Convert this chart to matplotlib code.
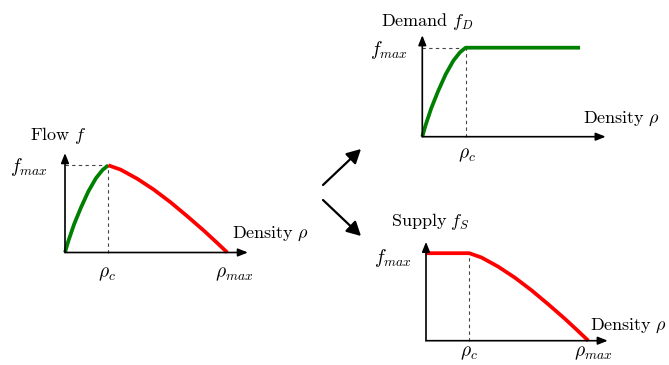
import matplotlib
matplotlib.use("Agg")
import matplotlib.pyplot as plt
from matplotlib.patches import FancyArrowPatch

plt.rcParams['mathtext.fontset'] = 'cm'
plt.rcParams['font.size'] = 13

# Flow curve (rho normalised by rho_max, f by f_max)
rho_c = 0.267
rho_green = [0.0, 0.020, 0.055, 0.097, 0.144, 0.191, 0.232, 0.267]
f_green = [0.0, 0.128, 0.319, 0.510, 0.701, 0.853, 0.948, 1.0]
rho_red = [0.267, 0.343, 0.445, 0.548, 0.651, 0.754, 0.856, 0.938, 1.0]
f_red = [1.0, 0.950, 0.846, 0.720, 0.575, 0.415, 0.250, 0.109, 0.0]
rho_demand_end = 0.972

GREEN = '#008000'
RED = '#ff0000'
W, H = 669, 365
SX = 162.3
XLIM = (-0.02, 1.2)
YLIM = (-0.02, 1.2)
MATH_SIZE = 14

fig = plt.figure(figsize=(W / 100, H / 100), dpi=100)


def make_axes(ox, oy, sy):
    """Axes whose data origin sits at pixel (ox, oy), measured from top-left."""
    left = ox + XLIM[0] * SX
    bottom = (H - oy) + YLIM[0] * sy
    ax = fig.add_axes([left / W, bottom / H,
                       (XLIM[1] - XLIM[0]) * SX / W,
                       (YLIM[1] - YLIM[0]) * sy / H])
    ax.set_xlim(*XLIM)
    ax.set_ylim(*YLIM)
    ax.axis('off')
    ax.patch.set_visible(False)
    return ax


def draw_frame(ax, xtip, ytip, hdash=True):
    head = dict(arrowstyle='-|>,head_length=0.45,head_width=0.18',
                color='black', lw=1.2, shrinkA=0, shrinkB=0)
    ax.annotate('', xy=(xtip, 0), xytext=(0, 0), arrowprops=head,
                annotation_clip=False)
    ax.annotate('', xy=(0, ytip), xytext=(0, 0), arrowprops=head,
                annotation_clip=False)
    ax.plot([rho_c, rho_c], [0, 1], color='#444444', lw=0.8,
            ls=(0, (3, 3)), clip_on=False)
    if hdash:
        ax.plot([0, rho_c], [1, 1], color='#444444', lw=0.8,
                ls=(0, (3, 3)), clip_on=False)


# --- Flow ---
ax1 = make_axes(65.0, 252.5, 87.2)
draw_frame(ax1, 1.127, 1.14)
ax1.plot(rho_green, f_green, color=GREEN, lw=2.7, solid_capstyle='butt',
         solid_joinstyle='round', clip_on=False)
ax1.plot(rho_red, f_red, color=RED, lw=2.7, solid_capstyle='butt',
         solid_joinstyle='round', clip_on=False)
ax1.text(-0.045, 1.34, r'$\mathrm{Flow}\ f$', ha='center', va='center')
ax1.text(-0.105, 0.98, r'$f_{max}$', ha='right', va='center', fontsize=MATH_SIZE)
ax1.text(1.03, 0.21, r'$\mathrm{Density}\ \rho$', ha='left', va='center')
ax1.text(rho_c - 0.01, -0.24, r'$\rho_c$', ha='center', va='center', fontsize=MATH_SIZE)
ax1.text(1.04, -0.24, r'$\rho_{max}$', ha='center', va='center', fontsize=MATH_SIZE)

# --- Demand ---
ax2 = make_axes(422.3, 136.7, 89.0)
draw_frame(ax2, 1.13, 1.14)
ax2.plot(rho_green + [rho_demand_end], f_green + [1.0], color=GREEN, lw=2.7,
         solid_capstyle='butt', solid_joinstyle='round', clip_on=False)
ax2.text(0.03, 1.30, r'$\mathrm{Demand}\ f_D$', ha='center', va='center')
ax2.text(-0.09, 0.974, r'$f_{max}$', ha='right', va='center', fontsize=MATH_SIZE)
ax2.text(0.99, 0.2, r'$\mathrm{Density}\ \rho$', ha='left', va='center')
ax2.text(rho_c + 0.01, -0.205, r'$\rho_c$', ha='center', va='center', fontsize=MATH_SIZE)

# --- Supply ---
ax3 = make_axes(426.0, 340.7, 87.5)
draw_frame(ax3, 1.12, 1.13, hdash=False)
ax3.plot([0.0] + rho_red, [1.0] + f_red, color=RED, lw=2.7,
         solid_capstyle='butt', solid_joinstyle='round', clip_on=False)
ax3.text(0.025, 1.357, r'$\mathrm{Supply}\ f_S$', ha='center', va='center')
ax3.text(-0.085, 0.946, r'$f_{max}$', ha='right', va='center', fontsize=MATH_SIZE)
ax3.text(1.01, 0.169, r'$\mathrm{Density}\ \rho$', ha='left', va='center')
ax3.text(rho_c, -0.14, r'$\rho_c$', ha='center', va='center', fontsize=MATH_SIZE)
ax3.text(1.03, -0.14, r'$\rho_{max}$', ha='center', va='center', fontsize=MATH_SIZE)

# --- arrows between panels (figure pixel coords) ---
big = dict(arrowstyle='-|>,head_length=0.6,head_width=0.32',
           mutation_scale=14, color='black', lw=1.6,
           shrinkA=0, shrinkB=0, transform=fig.transFigure)
fig.add_artist(FancyArrowPatch((323 / W, 1 - 185 / H),
                               (361 / W, 1 - 149 / H), **big))
fig.add_artist(FancyArrowPatch((323 / W, 1 - 200 / H),
                               (361 / W, 1 - 236 / H), **big))

fig.savefig('out.png', dpi=100)
